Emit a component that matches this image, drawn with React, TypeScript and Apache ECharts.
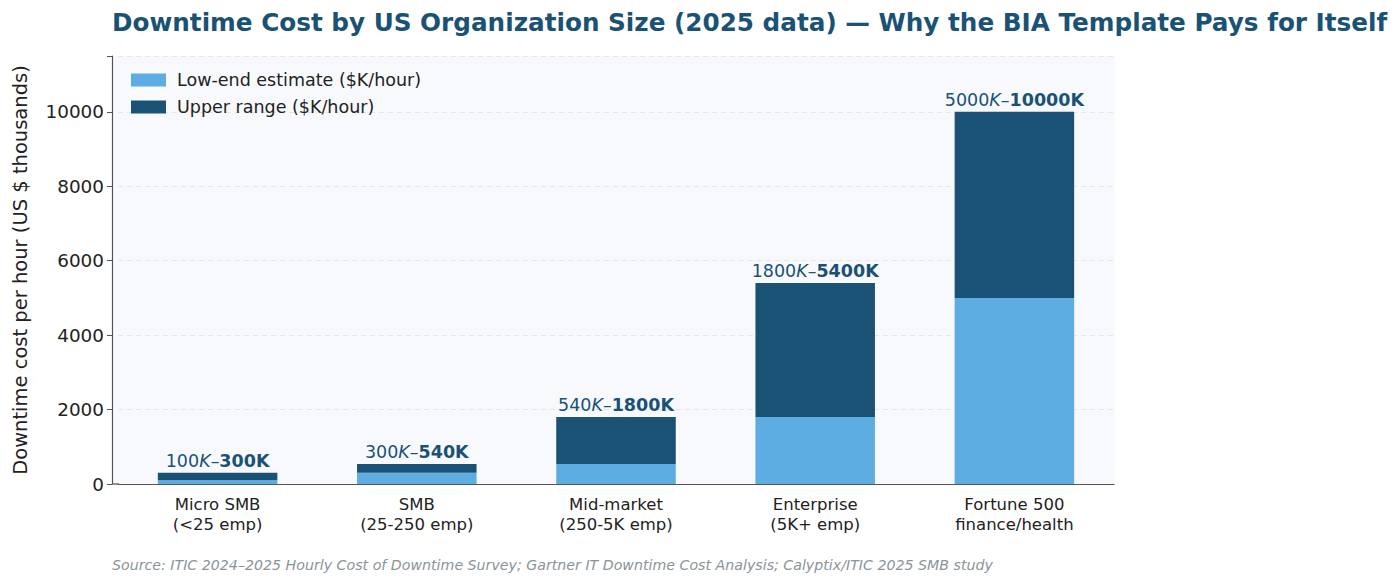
import React, { useEffect, useRef } from "react";
import * as echarts from "echarts";

const categories = [
  "Micro SMB\n(<25 emp)",
  "SMB\n(25-250 emp)",
  "Mid-market\n(250-5K emp)",
  "Enterprise\n(5K+ emp)",
  "Fortune 500\nfinance/health",
];
const lowEnd = [100, 300, 540, 1800, 5000];
const upperTotal = [300, 540, 1800, 5400, 10000];
const upperExtra = upperTotal.map((v, i) => v - lowEnd[i]);

const LIGHT = "#5DADE2";
const DARK = "#1A5276";
const FONT = "DejaVu Sans";

export default function App() {
  const ref = useRef<HTMLDivElement>(null);
  useEffect(() => {
    const chart = echarts.init(ref.current!, null, { renderer: "svg" });
    chart.setOption({
      animation: false,
      backgroundColor: "#ffffff",
      textStyle: { fontFamily: FONT },
      title: {
        text: "Downtime Cost by US Organization Size (2025 data) — Why the BIA Template Pays for Itself",
        left: 112,
        top: 10,
        padding: 0,
        textStyle: { fontFamily: FONT, fontSize: 24.7, fontWeight: "bold", color: DARK },
      },
      graphic: [
        {
          type: "rect",
          z: -10,
          silent: true,
          shape: { x: 112, y: 56, width: 1003, height: 428 },
          style: { fill: "#F8F9FC" },
        },
        {
          type: "line",
          z: 10,
          silent: true,
          shape: { x1: 112, y1: 484, x2: 119, y2: 484 },
          style: { stroke: "#555", lineWidth: 1.2 },
        },
        {
          type: "text",
          left: 112,
          top: 558,
          style: {
            text: "Source: ITIC 2024–2025 Hourly Cost of Downtime Survey; Gartner IT Downtime Cost Analysis; Calyptix/ITIC 2025 SMB study",
            font: `italic 14.2px "${FONT}"`,
            fill: "#8a9499",
          },
        },
      ],
      legend: {
        left: 126,
        top: 66,
        orient: "vertical",
        itemWidth: 35,
        itemHeight: 13,
        itemGap: 9,
        icon: "rect",
        textStyle: { fontFamily: FONT, fontSize: 17.5, color: "#222", padding: [0, 0, 0, 6] },
        data: ["Low-end estimate ($K/hour)", "Upper range ($K/hour)"],
      },
      grid: {
        left: 118,
        right: 286,
        top: 56,
        bottom: 101,
        show: false,
      },
      xAxis: {
        type: "category",
        data: categories,
        axisLine: { lineStyle: { color: "#555", width: 1.2 } },
        axisTick: { alignWithLabel: true, length: 5, lineStyle: { color: "#555" } },
        axisLabel: { fontFamily: FONT, fontSize: 16.5, color: "#222", lineHeight: 20, margin: 10 },
      },
      yAxis: {
        type: "value",
        min: 0,
        max: 11500,
        interval: 2000,
        offset: 6,
        name: "Downtime cost per hour (US $ thousands)",
        nameLocation: "middle",
        nameGap: 82,
        nameTextStyle: { fontFamily: FONT, fontSize: 19.5, color: "#222" },
        axisLine: { show: true, lineStyle: { color: "#555", width: 1.2 } },
        axisTick: { show: true, length: 5, lineStyle: { color: "#555" } },
        axisLabel: {
          fontFamily: FONT,
          fontSize: 18.4,
          color: "#222",
          margin: 8,
          formatter: (v: number) => (v > 10000 ? "" : String(v)),
        },
        splitLine: { lineStyle: { color: "#e3e6ea", type: [5, 4], width: 1 } },
      },
      series: [
        {
          name: "Low-end estimate ($K/hour)",
          type: "bar",
          stack: "s",
          data: lowEnd,
          barWidth: "60%",
          itemStyle: { color: LIGHT },
        },
        {
          name: "Upper range ($K/hour)",
          type: "bar",
          stack: "s",
          data: upperExtra,
          barWidth: "60%",
          itemStyle: { color: DARK },
          label: {
            show: true,
            position: "top",
            distance: 3,
            formatter: (p: any) => {
              const i = p.dataIndex;
              return `{a|${lowEnd[i]}}{k|K}{a|–}{b|${upperTotal[i]}K}`;
            },
            rich: {
              a: { fontFamily: FONT, fontSize: 17.5, color: DARK },
              k: { fontFamily: FONT, fontSize: 17.5, color: DARK, fontStyle: "italic" },
              b: { fontFamily: FONT, fontSize: 17.5, color: DARK, fontWeight: "bold" },
            },
          },
        },
      ],
    });
    return () => chart.dispose();
  }, []);
  return <div ref={ref} style={{ width: 1400, height: 585, margin: -8 }} />;
}
